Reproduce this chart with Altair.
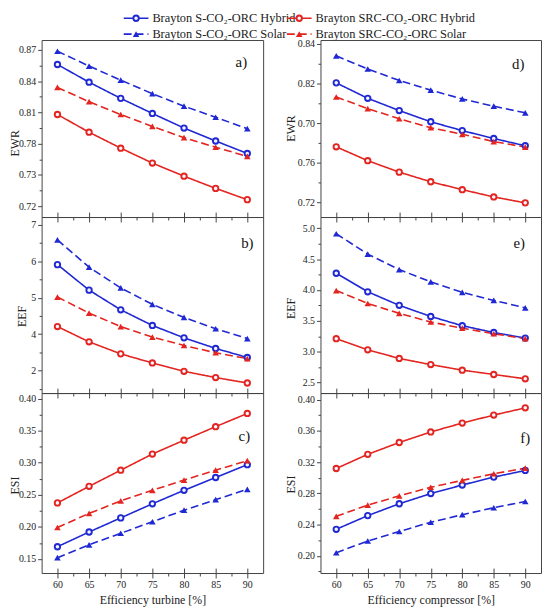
import json
import altair as alt
import pandas as pd

# ---------------- data ----------------
efficiency = [60, 65, 70, 75, 80, 85, 90]

s_hybrid = "Brayton S-CO₂-ORC Hybrid"
src_hybrid = "Brayton SRC-CO₂-ORC Hybrid"
s_solar = "Brayton S-CO₂-ORC Solar"
src_solar = "Brayton SRC-CO₂-ORC Solar"
series_names = [s_hybrid, src_hybrid, s_solar, src_solar]
hybrid_names = [s_hybrid, src_hybrid]
solar_names = [s_solar, src_solar]

# a) EWR vs turbine efficiency
ewr_t_s_hybrid = [0.856, 0.839, 0.8235, 0.809, 0.795, 0.7826, 0.7706]
ewr_t_s_solar = [0.8687, 0.8545, 0.841, 0.828, 0.816, 0.8054, 0.7944]
ewr_t_src_hybrid = [0.808, 0.791, 0.7757, 0.7614, 0.7488, 0.7371, 0.7263]
ewr_t_src_solar = [0.834, 0.8203, 0.808, 0.7966, 0.7858, 0.7766, 0.7678]

# b) EEF vs turbine efficiency
eef_t_s_hybrid = [5.91, 5.21, 4.67, 4.24, 3.90, 3.61, 3.36]
eef_t_s_solar = [6.59, 5.84, 5.27, 4.82, 4.46, 4.15, 3.88]
eef_t_src_hybrid = [4.21, 3.79, 3.46, 3.21, 2.98, 2.81, 2.66]
eef_t_src_solar = [5.02, 4.58, 4.21, 3.92, 3.69, 3.49, 3.33]

# c) ESI vs turbine efficiency
esi_t_s_hybrid = [0.169, 0.192, 0.214, 0.236, 0.257, 0.277, 0.297]
esi_t_s_solar = [0.152, 0.172, 0.190, 0.208, 0.226, 0.2425, 0.2585]
esi_t_src_hybrid = [0.2374, 0.2632, 0.2884, 0.3136, 0.3352, 0.3563, 0.3769]
esi_t_src_solar = [0.199, 0.221, 0.2405, 0.257, 0.273, 0.2884, 0.3033]

# d) EWR vs compressor efficiency
ewr_c_s_hybrid = [0.8105, 0.7988, 0.7895, 0.781, 0.7743, 0.7683, 0.7628]
ewr_c_s_solar = [0.831, 0.821, 0.8123, 0.805, 0.7983, 0.7928, 0.7878]
ewr_c_src_hybrid = [0.762, 0.7515, 0.7428, 0.7355, 0.7295, 0.724, 0.7195]
ewr_c_src_solar = [0.7998, 0.791, 0.7833, 0.7765, 0.7715, 0.766, 0.7618]

# e) EEF vs compressor efficiency
eef_c_s_hybrid = [4.27, 3.97, 3.75, 3.57, 3.42, 3.31, 3.22]
eef_c_s_solar = [4.91, 4.58, 4.33, 4.13, 3.96, 3.83, 3.71]
eef_c_src_hybrid = [3.21, 3.03, 2.89, 2.79, 2.70, 2.63, 2.56]
eef_c_src_solar = [3.99, 3.78, 3.62, 3.48, 3.38, 3.29, 3.21]

# f) ESI vs compressor efficiency
esi_c_s_hybrid = [0.234, 0.2515, 0.2667, 0.2797, 0.2907, 0.3008, 0.3093]
esi_c_s_solar = [0.204, 0.219, 0.2312, 0.243, 0.2527, 0.2616, 0.2696]
esi_c_src_hybrid = [0.3118, 0.330, 0.3451, 0.3586, 0.370, 0.3802, 0.3895]
esi_c_src_solar = [0.2506, 0.265, 0.2768, 0.2878, 0.2966, 0.3051, 0.3122]

# axis ticks and their printed labels
x_ticks = [60, 65, 70, 75, 80, 85, 90]
x_minor = [62.5, 67.5, 72.5, 77.5, 82.5, 87.5]

ewr_t_ticks = [0.72, 0.75, 0.78, 0.81, 0.84, 0.87]
ewr_t_labels = ["0.72", "0.73", "0.78", "0.81", "0.84", "0.87"]
eef_t_ticks = [3, 4, 5, 6, 7]
eef_t_labels = ["2", "4", "5", "6", "7"]
esi_t_ticks = [0.15, 0.20, 0.25, 0.30, 0.35, 0.40]
esi_t_labels = ["0.15", "0.20", "0.25", "0.30", "0.35", "0.40"]
ewr_c_ticks = [0.72, 0.75, 0.78, 0.81, 0.84]
ewr_c_labels = ["0.72", "0.76", "0.70", "0.82", "0.84"]
eef_c_ticks = [2.5, 3.0, 3.5, 4.0, 4.5, 5.0]
eef_c_labels = ["2.5", "3.0", "3.5", "4.0", "4.5", "5.0"]
esi_c_ticks = [0.20, 0.24, 0.28, 0.32, 0.36, 0.40]
esi_c_labels = ["0.20", "0.24", "0.28", "0.32", "0.36", "0.40"]

# ---------------- style ----------------
BLUE = "#1f28d2"
RED = "#e3241f"
FONT = "Liberation Serif, Times New Roman, DejaVu Serif, serif"
LW = 1.6

color_scale = alt.Scale(domain=series_names, range=[BLUE, RED, BLUE, RED])
dash_scale = alt.Scale(domain=series_names, range=[[1, 0], [1, 0], [8, 4], [8, 4]])
x_scale = alt.Scale(domain=[57.5, 92.5], nice=False, zero=False)


def make_df(sh, srch, ss, srcs):
    rows = []
    for name, vals in zip(series_names, [sh, srch, ss, srcs]):
        for x, v in zip(efficiency, vals):
            rows.append({"eff": x, "value": v, "series": name})
    return pd.DataFrame(rows)


def minor_of(ticks, dom):
    step = ticks[1] - ticks[0]
    cands = [ticks[0] - step / 2] + [t + step / 2 for t in ticks]
    return [round(c, 5) for c in cands if dom[0] <= c <= dom[1]]


def panel(df, ydom, ticks, labels, ytitle, tag, tagpos, width, height,
          bottom, xtitle, title_xy):
    y_scale = alt.Scale(domain=ydom, nice=False, zero=False)
    label_expr = f"{json.dumps(labels)}[indexof({json.dumps(ticks)}, datum.value)]"
    if bottom:
        main_x = alt.Axis(values=x_ticks, tickSize=5, orient="bottom",
                          title=xtitle, labelPadding=2, titlePadding=5)
    else:
        main_x = alt.Axis(values=x_ticks, tickSize=5, orient="bottom",
                          labels=False, title=None)
    main_y = alt.Axis(values=ticks, labelExpr=label_expr, tickSize=4,
                      orient="left", title=ytitle, titleX=title_xy[0],
                      titleY=title_xy[1], titleBaseline="middle",
                      titleAlign="center", titleAngle=270, labelPadding=2)
    inward_x = alt.Axis(values=x_ticks, tickSize=5, orient="bottom",
                        offset=-5, labels=False, title=None)
    minor_y = alt.Axis(values=minor_of(ticks, ydom), tickSize=2.5,
                       orient="left", labels=False, title=None)
    minor_x = alt.Axis(values=x_minor, tickSize=3, orient="bottom",
                       labels=False, title=None)

    base = alt.Chart(df)
    lines = base.mark_line(strokeWidth=LW).encode(
        x=alt.X("eff:Q", scale=x_scale, axis=main_x),
        y=alt.Y("value:Q", scale=y_scale, axis=main_y),
        color=alt.Color("series:N", scale=color_scale, legend=None),
        strokeDash=alt.StrokeDash("series:N", scale=dash_scale, legend=None),
        detail="series:N",
    )
    hyb = base.transform_filter(
        alt.FieldOneOfPredicate(field="series", oneOf=hybrid_names)
    ).mark_point(shape="circle", size=30, strokeWidth=1.9, filled=False,
                 fill="#f4f4ff", opacity=1).encode(
        x=alt.X("eff:Q", scale=x_scale, axis=inward_x),
        y=alt.Y("value:Q", scale=y_scale, axis=minor_y),
        color=alt.Color("series:N", scale=color_scale, legend=None),
    )
    sol = base.transform_filter(
        alt.FieldOneOfPredicate(field="series", oneOf=solar_names)
    ).mark_point(shape="triangle-up", size=44, filled=True, opacity=1).encode(
        x=alt.X("eff:Q", scale=x_scale, axis=minor_x),
        y=alt.Y("value:Q", scale=y_scale, axis=None),
        color=alt.Color("series:N", scale=color_scale, legend=None),
    )
    txt = alt.Chart(pd.DataFrame({"tag": [tag]})).mark_text(
        font=FONT, fontSize=15, align="center", baseline="middle", color="#111"
    ).encode(text="tag:N", x=alt.value(tagpos[0]), y=alt.value(tagpos[1]))
    return alt.layer(lines, hyb, sol, txt).resolve_axis(
        x="independent", y="independent"
    ).properties(width=width, height=height)


def legend_chart(names, width, xoff):
    ldf = pd.DataFrame({"series": names, "row": [0, 1]})
    y = alt.Y("row:O", axis=None,
              scale=alt.Scale(type="point", range=[6, 22], padding=0))
    rule = alt.Chart(ldf).mark_rule(strokeWidth=LW).encode(
        x=alt.value(xoff), x2=alt.value(xoff + 25), y=y,
        color=alt.Color("series:N", scale=color_scale, legend=None),
        strokeDash=alt.StrokeDash("series:N", scale=dash_scale, legend=None),
    )
    pt_h = alt.Chart(ldf).transform_filter(
        alt.FieldOneOfPredicate(field="series", oneOf=hybrid_names)
    ).mark_point(shape="circle", size=30, strokeWidth=1.9, filled=False,
                 fill="#f4f4ff", opacity=1).encode(
        x=alt.value(xoff + 12.5), y=y,
        color=alt.Color("series:N", scale=color_scale, legend=None),
    )
    pt_s = alt.Chart(ldf).transform_filter(
        alt.FieldOneOfPredicate(field="series", oneOf=solar_names)
    ).mark_point(shape="triangle-up", size=44, filled=True, opacity=1).encode(
        x=alt.value(xoff + 12.5), y=y,
        color=alt.Color("series:N", scale=color_scale, legend=None),
    )
    txt = alt.Chart(ldf).mark_text(
        font=FONT, fontSize=12.5, align="left", baseline="middle", color="#222"
    ).encode(x=alt.value(xoff + 29), y=y, text="series:N")
    return alt.layer(rule, pt_h, pt_s, txt).properties(
        width=width, height=28, view=alt.ViewBackground(strokeOpacity=0)
    )


WL, WR = 224, 223
H1, H2, H3 = 179, 178, 182

leg_l = legend_chart([s_hybrid, s_solar], WL, 83)
leg_r = legend_chart([src_hybrid, src_solar], WR, -34)

pa = panel(make_df(ewr_t_s_hybrid, ewr_t_src_hybrid, ewr_t_s_solar, ewr_t_src_solar),
           [0.7096, 0.8795], ewr_t_ticks, ewr_t_labels, "EWR", "a)", (202, 22),
           WL, H1, False, None, (-27, 104))
pb = panel(make_df(eef_t_s_hybrid, eef_t_src_hybrid, eef_t_s_solar, eef_t_src_solar),
           [2.384, 7.217], eef_t_ticks, eef_t_labels, "EEF", "b)", (208, 26),
           WL, H2, False, None, (-20, 100))
pc = panel(make_df(esi_t_s_hybrid, esi_t_src_hybrid, esi_t_s_solar, esi_t_src_solar),
           [0.128, 0.4087], esi_t_ticks, esi_t_labels, "ESI", "c)", (205, 43),
           WL, H3, True, "Efficiency turbine [%]", (-27, 93))
pd_ = panel(make_df(ewr_c_s_hybrid, ewr_c_src_hybrid, ewr_c_s_solar, ewr_c_src_solar),
            [0.70875, 0.843], ewr_c_ticks, ewr_c_labels, "EWR", "d)", (200, 24),
            WR, H1, False, None, (-30, 89))
pe = panel(make_df(eef_c_s_hybrid, eef_c_src_hybrid, eef_c_s_solar, eef_c_src_solar),
           [2.329, 5.181], eef_c_ticks, eef_c_labels, "EEF", "e)", (201, 26),
           WR, H2, False, None, (-30, 92))
pf = panel(make_df(esi_c_s_hybrid, esi_c_src_hybrid, esi_c_s_solar, esi_c_src_solar),
           [0.178, 0.4084], esi_c_ticks, esi_c_labels, "ESI", "f)", (207, 45),
           WR, H3, True, "Efficiency compressor [%]", (-30, 92))

chart = alt.concat(
    leg_l, leg_r, pa, pd_, pb, pe, pc, pf,
    columns=2, spacing={"row": 0, "column": 58}, bounds="flush", padding=0,
).configure_axis(
    labelFont=FONT, titleFont=FONT, labelFontSize=10, titleFontSize=12,
    titleFontWeight="normal", labelColor="#222", titleColor="#222",
    tickColor="#444", tickWidth=1, domain=False, grid=False,
).configure_view(stroke="#444", strokeWidth=1)

chart.save("out.html", embed_options={"renderer": "svg", "actions": False})
